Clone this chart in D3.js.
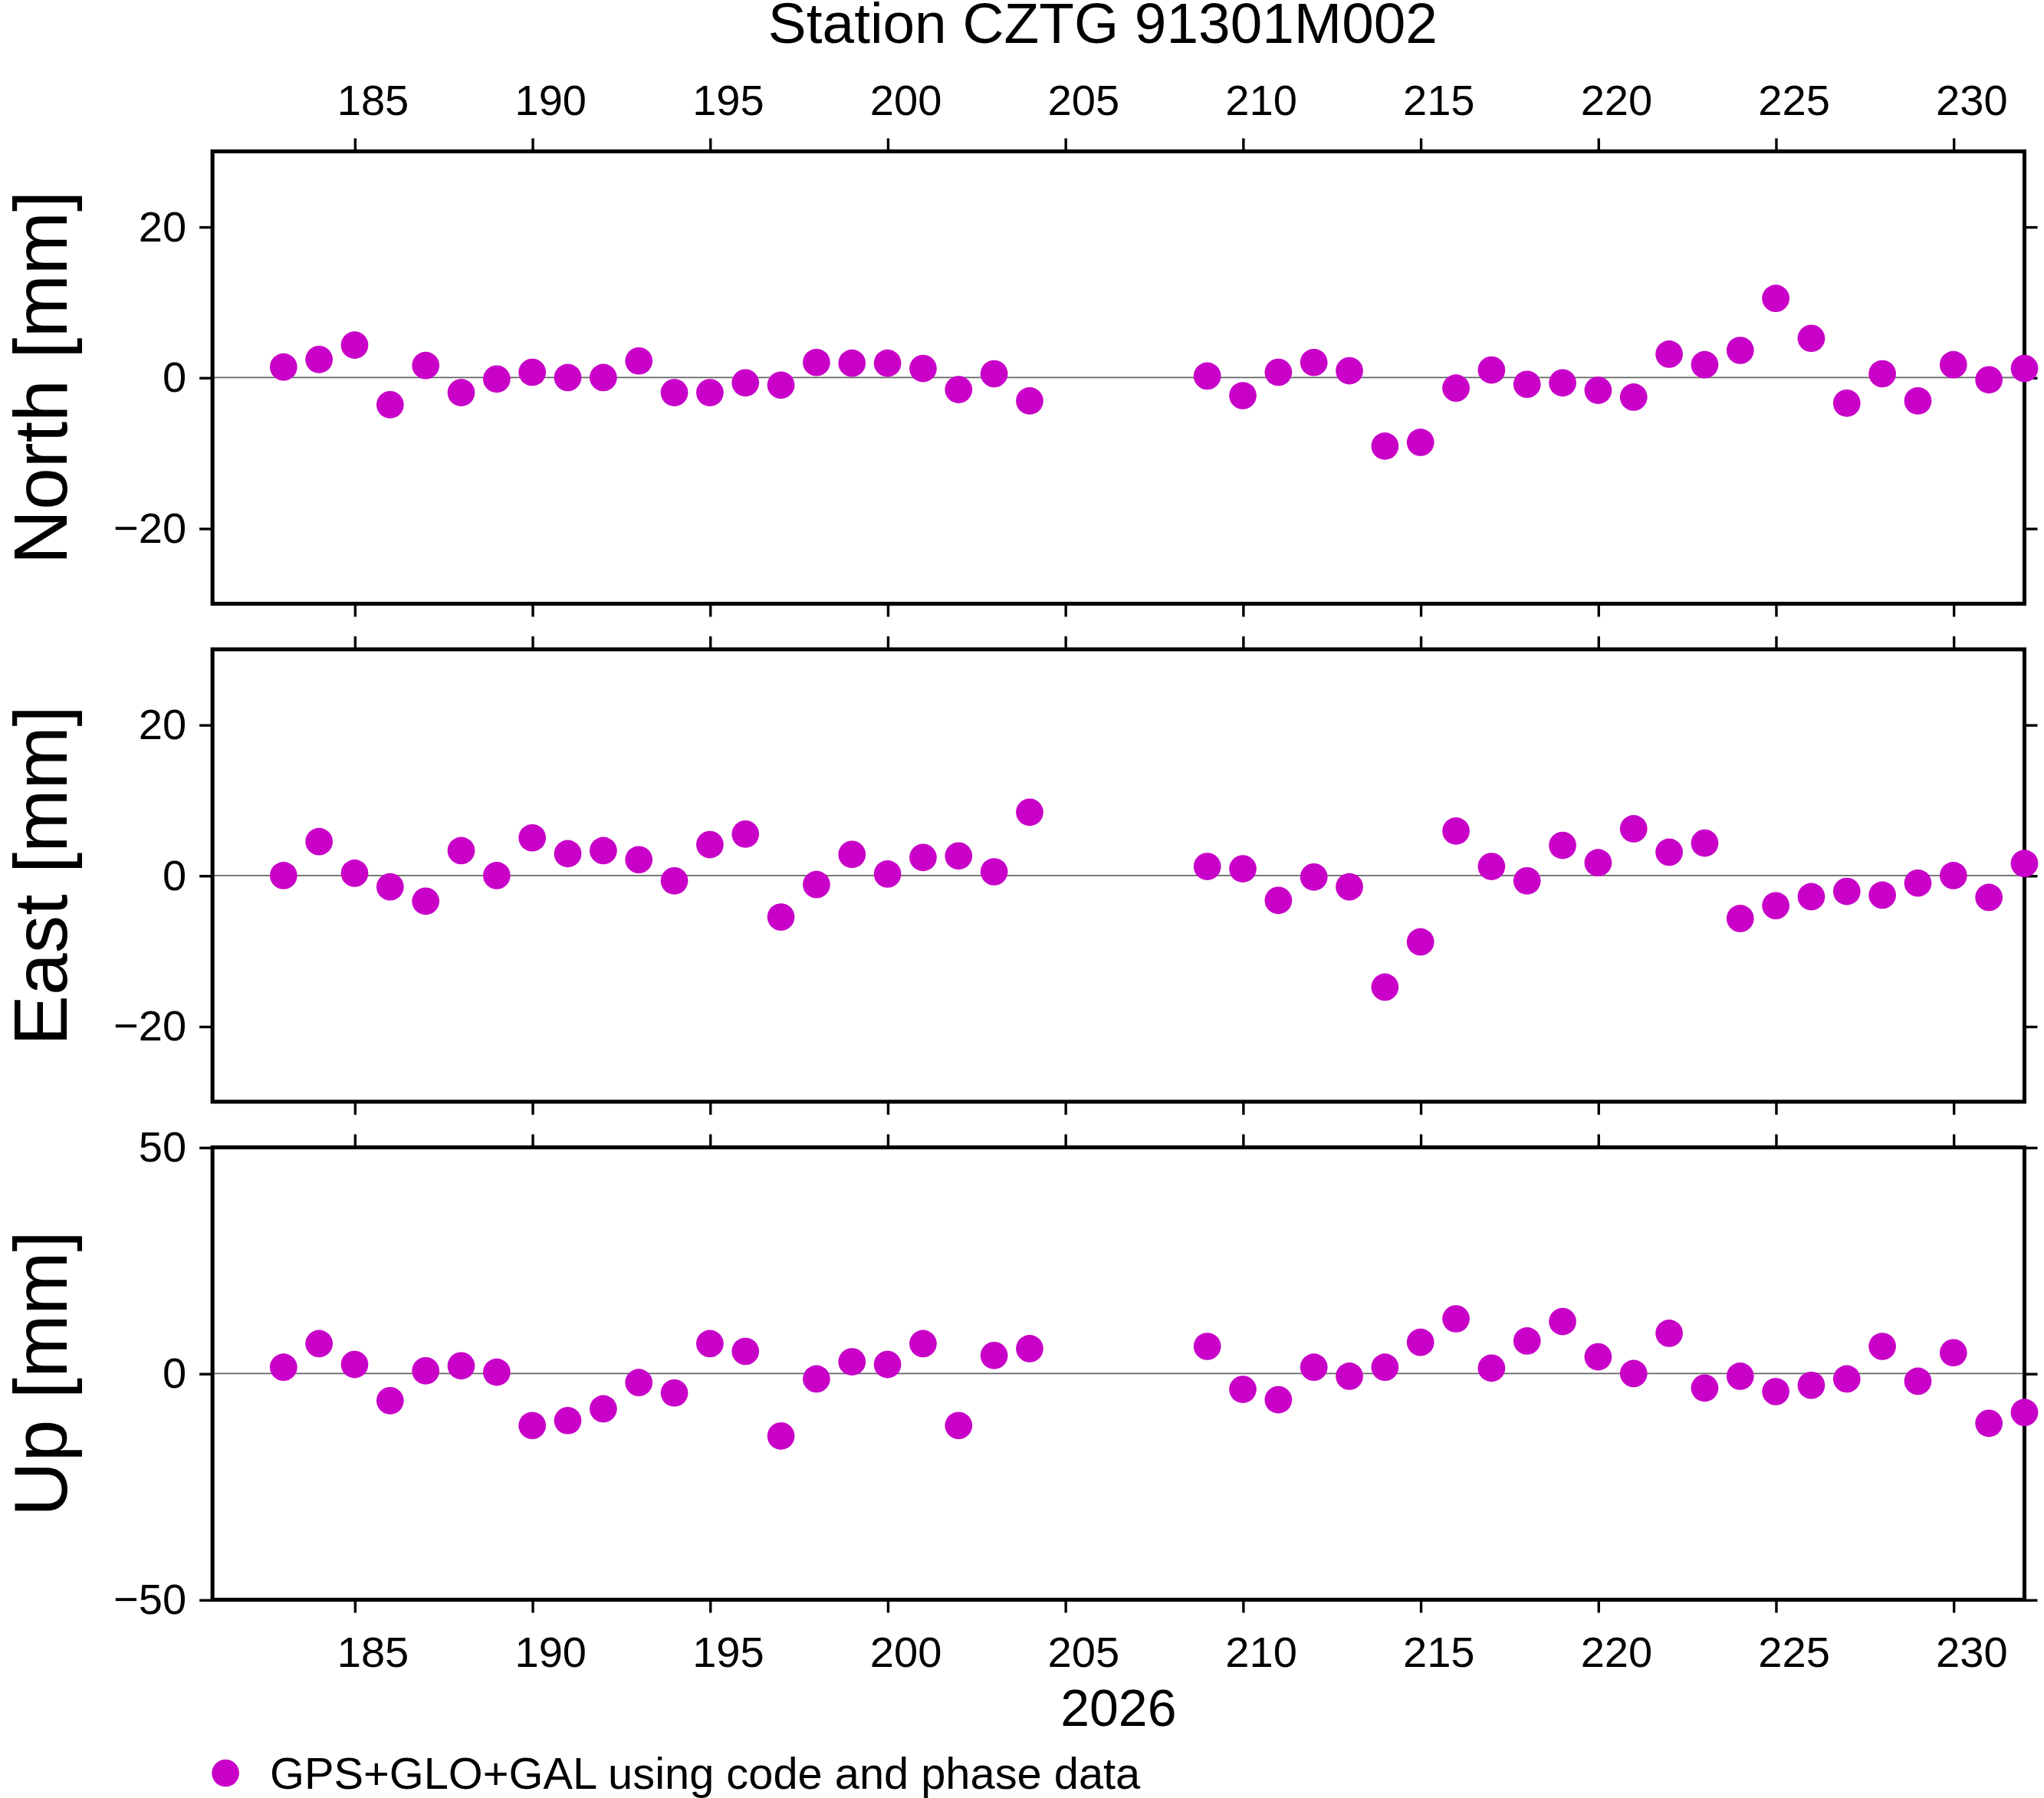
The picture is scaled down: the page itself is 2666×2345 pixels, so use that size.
<!DOCTYPE html>
<html><head><meta charset="utf-8">
<script src="https://cdn.jsdelivr.net/npm/d3@7"></script>
<style>body{margin:0;background:#fff}text{font-family:"Liberation Sans",Arial,sans-serif}</style>
</head><body><svg id="c"></svg>
<script>
const days = [183,184,185,186,187,188,189,190,191,192,193,194,195,196,197,198,199,200,201,202,203,204,
  209,210,211,212,213,214,215,216,217,218,219,220,221,222,223,224,225,226,227,228,229,230,231,232]
const north = [1.4,2.4,4.3,-3.6,1.6,-2,-0.2,0.7,0,0,2.2,-2,-2,-0.7,-1,2,1.9,1.9,1.2,-1.6,0.5,-3.1,
  0.2,-2.4,0.7,2,0.9,-9.1,-8.6,-1.4,1,-0.9,-0.7,-1.7,-2.6,3.1,1.7,3.6,10.5,5.2,-3.4,0.5,-3.1,1.7,-0.3,1.2]
const east = [0,4.5,0.3,-1.5,-3.4,3.3,0,5,2.9,3.3,2.1,-0.7,4.1,5.5,-5.5,-1.2,2.8,0.2,2.4,2.6,0.5,8.4,
  1.2,0.9,-3.3,-0.2,-1.5,-14.8,-8.8,5.9,1.2,-0.7,4,1.7,6.2,3.1,4.3,-5.7,-4,-2.8,-2.1,-2.6,-1,0,-2.9,1.6]
const up = [1.4,6.6,2,-6,0.6,1.7,0.3,-11.5,-10.4,-7.8,-2,-4.3,6.6,4.9,-13.8,-1.2,2.6,2,6.6,-11.5,4,5.5,
  6,-3.5,-5.8,1.4,-0.6,1.4,6.9,12.1,1.2,7.2,11.5,3.7,0,8.9,-3.2,-0.6,-4,-2.6,-1.2,6,-1.7,4.6,-11,-8.6]
const panels = [
  {label:'North [mm]', values:north, range:30, major:20, minor:10, top:116},
  {label:'East [mm]', values:east, range:30, major:20, minor:10, top:498},
  {label:'Up [mm]', values:up, range:50, major:50, minor:10, top:880}
]
const W = 1568, H = 1379
const svg = d3.select('#c').attr('width', 2666).attr('height', 2345).attr('viewBox', `0 0 ${W} ${H}`)
const left = 163, right = 1553, ph = 347
const x = d3.scaleLinear().domain([181, 232]).range([left, right])
const color = '#c800c8'
const halfDay = x(182) - x(181.5)

function xAxis(g, gen, labels) {
  g.call(gen(x).tickValues(d3.range(182, 233)).tickSize(5).tickFormat(''))
  g.call(gen(x).tickValues(d3.range(185, 233, 5)).tickSize(10).tickPadding(18)
    .tickFormat(labels ? d3.format('d') : ''))
  g.selectAll('text').attr('dx', halfDay)
}

panels.forEach((p, i) => {
  const y = d3.scaleLinear().domain([-p.range, p.range]).range([p.top + ph, p.top])
  const g = svg.append('g')
  g.append('line').attr('x1', left).attr('x2', right).attr('y1', y(0)).attr('y2', y(0))
    .attr('stroke', '#666').attr('stroke-width', 1)
  const styleAxis = a => {
    a.select('.domain').remove()
    a.selectAll('line').attr('stroke', '#000').attr('stroke-width', 2)
    a.selectAll('text').attr('font-size', 33).attr('fill', '#000')
  }
  const minorY = d3.range(-p.range, p.range + 0.1, p.minor)
  const majorY = minorY.filter(v => v % p.major === 0)
  const fmt = v => v < 0 ? '\u2212' + Math.abs(v) : String(v)
  const ly = g.append('g').attr('transform', `translate(${left},0)`)
  ly.call(d3.axisLeft(y).tickValues(minorY).tickSize(5).tickFormat(''))
  ly.call(d3.axisLeft(y).tickValues(majorY).tickSize(10).tickPadding(10).tickFormat(fmt))
  styleAxis(ly)
  const ry = g.append('g').attr('transform', `translate(${right},0)`)
  ry.call(d3.axisRight(y).tickValues(minorY).tickSize(5).tickFormat(''))
  ry.call(d3.axisRight(y).tickValues(majorY).tickSize(10).tickFormat(''))
  styleAxis(ry)
  const tx = g.append('g').attr('transform', `translate(0,${p.top})`)
  xAxis(tx, d3.axisTop, i === 0)
  styleAxis(tx)
  const bx = g.append('g').attr('transform', `translate(0,${p.top + ph})`)
  xAxis(bx, d3.axisBottom, i === 2)
  styleAxis(bx)
  g.append('rect').attr('x', left).attr('y', p.top).attr('width', right - left).attr('height', ph)
    .attr('fill', 'none').attr('stroke', '#000').attr('stroke-width', 3)
  g.append('g').selectAll('circle').data(days).join('circle')
    .attr('cx', d => x(d)).attr('cy', (d, j) => y(p.values[j])).attr('r', 10.5).attr('fill', color)
  g.append('text').attr('transform', `translate(51,${p.top + ph / 2}) rotate(-90)`)
    .attr('text-anchor', 'middle').attr('font-size', 58).text(p.label)
})

svg.append('text').attr('x', 846).attr('y', 33).attr('text-anchor', 'middle').attr('font-size', 44)
  .text('Station CZTG 91301M002')
svg.append('text').attr('x', 858).attr('y', 1324).attr('text-anchor', 'middle').attr('font-size', 40)
  .text('2026')
svg.append('circle').attr('cx', 173).attr('cy', 1360).attr('r', 10.5).attr('fill', color)
svg.append('text').attr('x', 207).attr('y', 1372).attr('font-size', 34)
  .text('GPS+GLO+GAL using code and phase data')
</script></body></html>
